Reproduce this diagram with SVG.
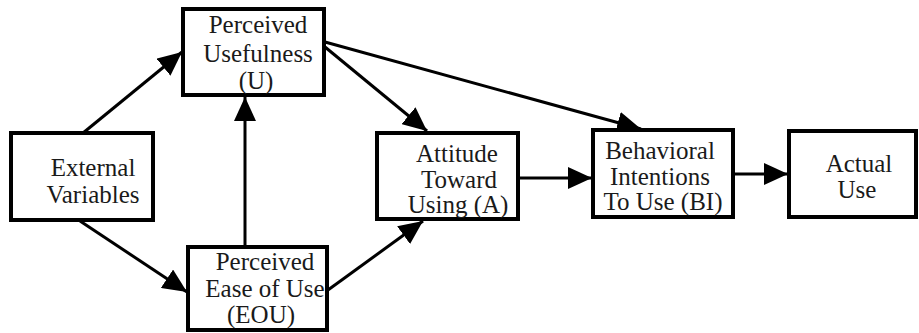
<svg xmlns="http://www.w3.org/2000/svg" width="919" height="333" viewBox="0 0 919 333">
<style>
.box{fill:#fff;stroke:#000;stroke-width:4}
.lbl{font-family:"Liberation Serif","Times New Roman",serif;font-size:25px;fill:#1a1a1a;text-anchor:middle}
.con{stroke:#000;stroke-width:3;fill:none;marker-end:url(#ah)}
</style>
<defs>
<marker id="ah" viewBox="0 0 24 22" refX="24" refY="11" markerWidth="24" markerHeight="22" markerUnits="userSpaceOnUse" orient="auto">
<path d="M0,0 L24,11 L0,22 z" fill="#000"/>
</marker>
</defs>
<rect width="919" height="333" fill="#fff"/>
<g id="connectors">
<line class="con" x1="83" y1="133" x2="182" y2="52"/>
<line class="con" x1="245" y1="247" x2="245" y2="97"/>
<line class="con" x1="325" y1="47" x2="427" y2="131"/>
<line class="con" x1="325" y1="42" x2="641" y2="129"/>
<line class="con" x1="80" y1="221" x2="187" y2="292"/>
<line class="con" x1="328" y1="290" x2="423" y2="221"/>
<line class="con" x1="520" y1="178" x2="592" y2="178"/>
<line class="con" x1="735" y1="174" x2="788" y2="174"/>
</g>
<g id="pu">
<rect class="box" x="183" y="9" width="141" height="86"/>
<text class="lbl" x="258" y="33">Perceived</text>
<text class="lbl" x="258" y="62">Usefulness</text>
<text class="lbl" x="256" y="89">(U)</text>
</g>
<g id="ext">
<rect class="box" x="11" y="133" width="142" height="87"/>
<text class="lbl" x="93" y="176">External</text>
<text class="lbl" x="93" y="203">Variables</text>
</g>
<g id="eou">
<rect class="box" x="188" y="247" width="139" height="83"/>
<text class="lbl" x="265" y="270">Perceived</text>
<text class="lbl" x="265" y="297">Ease of Use</text>
<text class="lbl" x="261" y="323">(EOU)</text>
</g>
<g id="att">
<rect class="box" x="377" y="133" width="141" height="86"/>
<text class="lbl" x="457" y="162">Attitude</text>
<text class="lbl" x="459" y="188">Toward</text>
<text class="lbl" x="458" y="213">Using (A)</text>
</g>
<g id="bi">
<rect class="box" x="593" y="130" width="140" height="87"/>
<text class="lbl" x="660" y="159">Behavioral</text>
<text class="lbl" x="660" y="185">Intentions</text>
<text class="lbl" x="663" y="210">To Use (BI)</text>
</g>
<g id="actual">
<rect class="box" x="789" y="131" width="127" height="86"/>
<text class="lbl" x="859" y="172">Actual</text>
<text class="lbl" x="857" y="198">Use</text>
</g>
</svg>
